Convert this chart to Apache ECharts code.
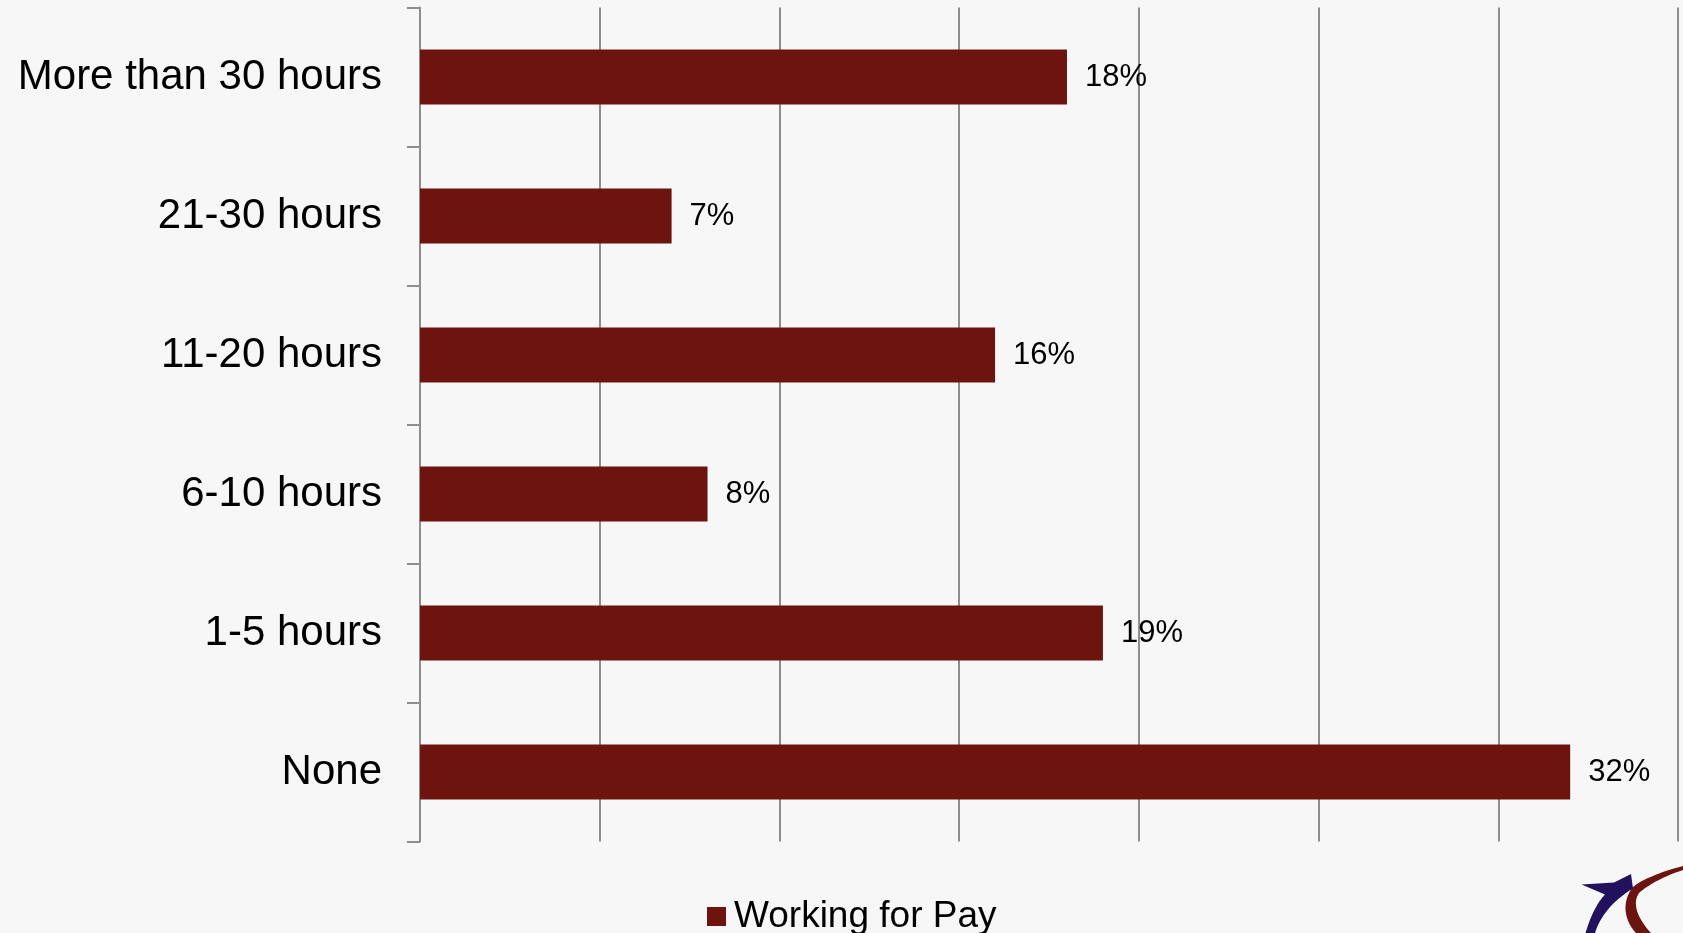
<!DOCTYPE html>
<html>
<head>
<meta charset="utf-8">
<style>
  html, body { margin: 0; padding: 0; background: #f7f7f7; }
  #chart { width: 1683px; height: 933px; }
</style>
<script src="https://cdn.jsdelivr.net/npm/echarts@6/dist/echarts.min.js"></script>
</head>
<body>
<div id="chart"></div>
<script>
// Hours per week spent working for pay
const categories = ['More than 30 hours', '21-30 hours', '11-20 hours', '6-10 hours', '1-5 hours', 'None'];
const values = [18, 7, 16, 8, 19, 32];
const seriesName = 'Working for Pay';

const FONT = '"Liberation Sans", Arial, Helvetica, sans-serif';
const BAR = '#6d140f';
const AXIS = '#8e8e8e';

// Turn a list of segments (lines and cubic curves) into polygon points
function outline(start, segs) {
  const pts = [start];
  let cur = start;
  segs.forEach(s => {
    if (s.length === 1) {
      pts.push(s[0]);
      cur = s[0];
    } else {
      const [c1, c2, end] = s;
      for (let i = 1; i <= 16; i++) {
        const t = i / 16, u = 1 - t;
        pts.push([
          u*u*u*cur[0] + 3*u*u*t*c1[0] + 3*u*t*t*c2[0] + t*t*t*end[0],
          u*u*u*cur[1] + 3*u*u*t*c1[1] + 3*u*t*t*c2[1] + t*t*t*end[1]
        ]);
      }
      cur = end;
    }
  });
  return pts;
}

// corner emblem: red swoosh and blue star
const swoosh = outline([1683, 866], [
  [[1660, 872], [1641, 880], [1633, 887]],
  [[1623, 899], [1622, 918], [1636, 933]],
  [[1651, 933]],
  [[1637, 918], [1632, 903], [1639, 893]],
  [[1649, 884], [1665, 876], [1683, 870]]
]);
const star = outline([1581.5, 884.5], [
  [[1614, 882.5]],
  [[1631, 874]],
  [[1633, 888.5]],
  [[1617, 898], [1601, 913], [1595, 933]],
  [[1585.5, 933]],
  [[1591, 915], [1597, 903], [1605, 894.5]]
]);

const chart = echarts.init(document.getElementById('chart'), null, { renderer: 'canvas' });

chart.setOption({
  backgroundColor: '#f7f7f7',
  animation: false,
  textStyle: { fontFamily: FONT },
  grid: { left: 420, right: 5, top: 7.5, bottom: 91.5 },
  legend: {
    data: [seriesName],
    left: 702,
    top: 893,
    icon: 'rect',
    itemWidth: 19,
    itemHeight: 19,
    textStyle: { fontSize: 37, color: '#000', fontFamily: FONT, padding: [0, 0, 0, 3] }
  },
  xAxis: {
    type: 'value',
    min: 0,
    max: 35,
    interval: 5,
    axisLine: { show: false },
    axisTick: { show: false },
    axisLabel: { show: false },
    splitLine: { show: true, lineStyle: { color: AXIS, width: 2 } }
  },
  yAxis: {
    type: 'category',
    inverse: true,
    data: categories,
    axisLine: { show: true, lineStyle: { color: AXIS, width: 2 } },
    axisTick: { show: true, length: 13, lineStyle: { color: AXIS, width: 2 } },
    axisLabel: { fontSize: 42, color: '#000', margin: 38, fontFamily: FONT, padding: [5, 0, 0, 0] }
  },
  series: [{
    name: seriesName,
    type: 'bar',
    data: values,
    barWidth: 55,
    itemStyle: { color: BAR },
    label: {
      show: true,
      position: 'right',
      distance: 18,
      formatter: '{c}%',
      fontSize: 31,
      color: '#000',
      fontFamily: FONT,
      padding: [4, 0, 0, 0]
    }
  }],
  graphic: [
    { type: 'polygon', shape: { points: swoosh }, style: { fill: '#6b1410' }, z: 100 },
    { type: 'polygon', shape: { points: star }, style: { fill: '#22125e' }, z: 100 }
  ]
});
</script>
</body>
</html>
